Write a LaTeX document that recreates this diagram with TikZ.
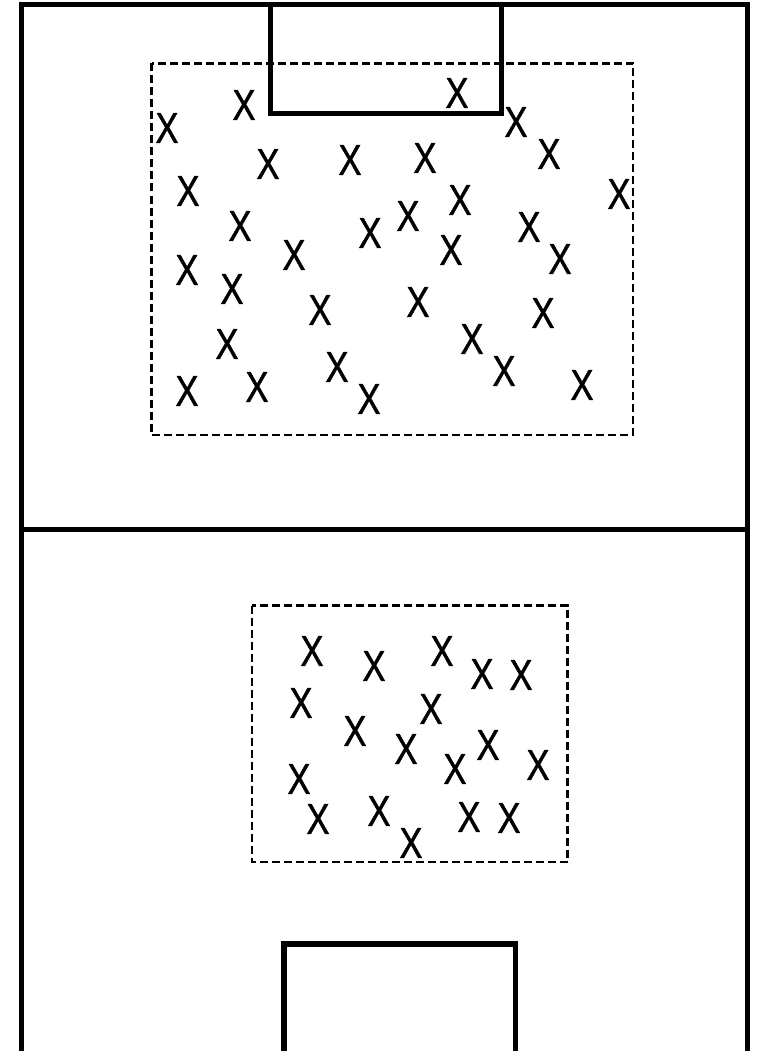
\documentclass[tikz,border=0pt]{standalone}
\usepackage{fontspec}
\setmainfont{Liberation Sans}
\newfontfamily\plfont{Liberation Sans}[FakeBold=1.2]
\newcommand{\plx}{\scalebox{0.8}[1]{X}}
\begin{document}
\begin{tikzpicture}[x=1pt,y=-1pt,
  fieldline/.style={line width=5.8pt,line join=miter,line cap=rect},
  zone/.style={line width=2.4pt,dash pattern=on 8pt off 4pt},
  player/.style={inner sep=0pt,font=\plfont\fontsize{43}{43}\selectfont}]
\useasboundingbox (0,0) rectangle (756,1051);
% zones
\draw[zone] (151.5,63.5) rectangle (633,435);
\draw[zone] (252,605.5) rectangle (567.5,862);
% field
\draw[fieldline] (21.5,1054) -- (21.5,4.5) -- (747.5,4.5) -- (747.5,1054);
\draw[fieldline] (21.5,529.5) -- (747.5,529.5);
\draw[fieldline] (270.5,4.5) -- (270.5,113.5) -- (501.5,113.5) -- (501.5,4.5);
\draw[fieldline] (284,1056) -- (284,944) -- (515.5,944) -- (515.5,1056);
% top players
\foreach \px/\py [count=\i] in {244/105,167/128,457/93,516/122,268/164,350/160,425/158,549/154,188/191,619/194,460/200,408/216,240/226,370/233,529/227,294/255,451/250,560/259,187/270,232/289,320/310,418/302,543/313,227/344,472/339,337/367,504/371,187/391,257/387,369/399,582/385}
  \node[player] (t\i) at (\px,\py) {\plx};
% bottom players
\foreach \px/\py [count=\i] in {312/651,374/666,442/651,482/674,521/675,301/703,431/709,355/731,406/749,488/745,455/769,538/765,299/779,318/819,379/811,469/817,509/818,411/843}
  \node[player] (b\i) at (\px,\py) {\plx};
\end{tikzpicture}
\end{document}
